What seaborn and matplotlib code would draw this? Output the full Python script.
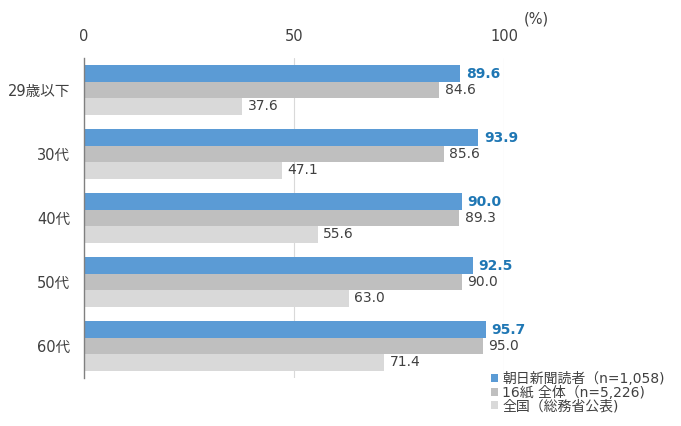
import matplotlib
matplotlib.use("Agg")
import matplotlib.pyplot as plt
import seaborn as sns
import pandas as pd

categories = ["29歳以下", "30代", "40代", "50代", "60代"]
series_names = ["朝日新聞読者（n=1,058)", "16紙 全体（n=5,226)", "全国（総務省公表)"]
asahi = [89.6, 93.9, 90.0, 92.5, 95.7]
papers16 = [84.6, 85.6, 89.3, 90.0, 95.0]
national = [37.6, 47.1, 55.6, 63.0, 71.4]
x_ticks = [0, 50, 100]

colors = ["#5B9BD5", "#BFBFBF", "#D9D9D9"]
label_colors = ["#1F77B4", "#404040", "#404040"]

rows = []
for name, vals in zip(series_names, [asahi, papers16, national]):
    for c, v in zip(categories, vals):
        rows.append({"cat": c, "series": name, "value": v})
df = pd.DataFrame(rows)

sns.set_theme(style="white")
plt.rcParams['font.family'] = ['DejaVu Sans', 'Noto Sans CJK JP']

fig = plt.figure(figsize=(6.81, 4.26), dpi=100)
ax = fig.add_axes([84/681, 1-378/426, 420/681, 320/426])

sns.barplot(data=df, y="cat", x="value", hue="series", order=categories,
            hue_order=series_names, palette=colors, width=0.77,
            orient="h", ax=ax, saturation=1, edgecolor="none", legend=True)

ax.set_xlim(0, 100)
ax.set_xticks(x_ticks)
ax.xaxis.tick_top()
ax.tick_params(axis="x", length=0, labelsize=10.5, colors="#404040", pad=10)
ax.tick_params(axis="y", length=0, labelsize=10.5, colors="#404040", pad=10)
ax.set_xlabel("")
ax.set_ylabel("")
for s in ["top", "right", "bottom"]:
    ax.spines[s].set_visible(False)
ax.spines["left"].set_color("#808080")
ax.spines["left"].set_linewidth(1.0)
for xv in [50, 100]:
    ax.axvline(xv, color="#D9D9D9", lw=0.8, zorder=0)

for i, cont in enumerate(ax.containers):
    ax.bar_label(cont, fmt="%.1f", padding=4, fontsize=10,
                 color=label_colors[i],
                 fontweight="bold" if i == 0 else "normal")

ax.text(536/681, 1-19/426, "(%)", transform=fig.transFigure, ha="center",
        va="center", fontsize=10.5, color="#404040")

leg = ax.legend(loc="upper left", bbox_to_anchor=(484/681, 1-365/426),
                bbox_transform=fig.transFigure, frameon=False, fontsize=10,
                handlelength=0.5, handleheight=0.5, handletextpad=0.3,
                labelspacing=-0.03, borderpad=0)
for t in leg.get_texts():
    t.set_color("#404040")

fig.savefig("out.png", dpi=100)
